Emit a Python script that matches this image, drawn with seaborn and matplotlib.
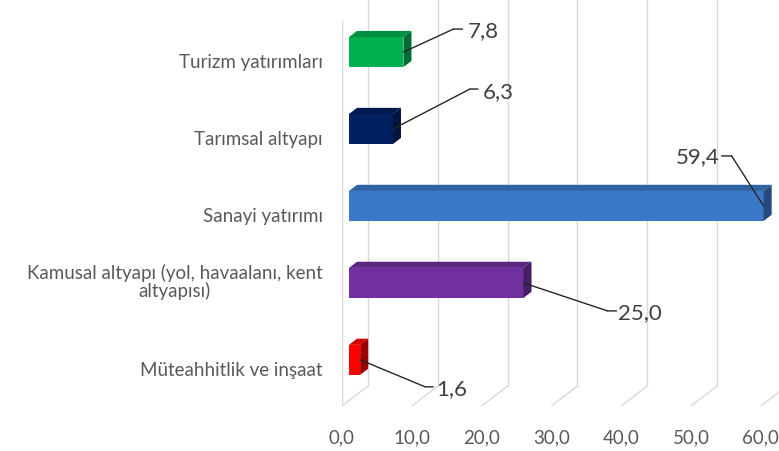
import matplotlib.pyplot as plt
import matplotlib.transforms as mtransforms
import numpy as np
import pandas as pd
import seaborn as sns
from matplotlib.patches import Polygon

# veriler
kategoriler = [
    "Turizm yatırımları",
    "Tarımsal altyapı",
    "Sanayi yatırımı",
    "Kamusal altyapı (yol, havaalanı, kent\naltyapısı)",
    "Müteahhitlik ve inşaat",
]
oranlar = [7.8, 6.3, 59.4, 25.0, 1.6]
renkler = ["#00B050", "#002060", "#3B79C8", "#7030A0", "#FF0000"]
x_ticks = [0, 10, 20, 30, 40, 50, 60]

df = pd.DataFrame({"kategori": kategoriler, "oran": oranlar})

sns.set_style("white")
plt.rcParams["font.family"] = ["Lato", "DejaVu Sans"]

fig = plt.figure(figsize=(7.79, 4.52), dpi=100)
ax = fig.add_axes([342 / 779, 45 / 452, 437 / 779, 407 / 452])

ax.set_xlim(-1.0, 61.6)
ax.set_ylim(4.6, -0.69)

# 3B görünümlü ızgara (arka duvar + zemin)
back_dx = 2.72
front_dx = -1.0
floor_back = 4.34
floor_front = 4.6
for t in x_ticks:
    ax.plot([t + back_dx, t + back_dx], [-0.69, floor_back], color="#d9d9d9", lw=1, zorder=0)
    ax.plot([t + back_dx, t + front_dx], [floor_back, floor_front], color="#d9d9d9", lw=1, zorder=0)
ax.plot([front_dx, front_dx], [-0.4, floor_front], color="#d9d9d9", lw=1, zorder=0)

sns.barplot(
    data=df,
    x="oran",
    y="kategori",
    hue="kategori",
    palette=renkler,
    orient="h",
    width=0.39,
    legend=False,
    ax=ax,
    zorder=2,
    saturation=1,
    linewidth=0,
)
ax.set_ylim(4.6, -0.69)
ax.set_xlim(-1.0, 61.6)

# çubuklara derinlik ekle
dx, dy = 1.15, -0.08
for p, c in zip(ax.patches, renkler):
    x0, y0, w, h = p.get_x(), p.get_y(), p.get_width(), p.get_height()
    rgb = np.array(plt.matplotlib.colors.to_rgb(c))
    top = Polygon([(x0, y0), (x0 + w, y0), (x0 + w + dx, y0 + dy), (x0 + dx, y0 + dy)],
                  closed=True, facecolor=rgb * 0.82, edgecolor="none", zorder=2)
    side = Polygon([(x0 + w, y0), (x0 + w, y0 + h), (x0 + w + dx, y0 + h + dy), (x0 + w + dx, y0 + dy)],
                   closed=True, facecolor=rgb * 0.62, edgecolor="none", zorder=2)
    ax.add_patch(top)
    ax.add_patch(side)

# veri etiketleri (kılavuz çizgili)
# (dirsek x, dirsek y, yatay parça, metin x, metin y, hizalama) piksel cinsinden
etiket_ofset = [
    (50, 23, 9, 64, 22, "left"),
    (77, 40, 8, 90, 38, "left"),
    (-32, 50, -10, -44, 50, "right"),
    (84, -28, 9, 94, -29, "left"),
    (65, -27, 8, 76, -28, "left"),
]
for i, (v, (ex, ey, hx, tx, ty, ha)) in enumerate(zip(oranlar, etiket_ofset)):
    ax.annotate("", xy=(v, i), xytext=(ex, ey), textcoords="offset pixels",
                arrowprops=dict(arrowstyle="-", color="#262626", lw=1, shrinkA=0, shrinkB=0))
    elbow = mtransforms.offset_copy(ax.transData, fig=fig, x=ex, y=ey, units="dots")
    ax.annotate("", xy=(v, i), xycoords=elbow, xytext=(hx, 0), textcoords="offset pixels",
                arrowprops=dict(arrowstyle="-", color="#262626", lw=1, shrinkA=0, shrinkB=0))
    ax.annotate(f"{v:.1f}".replace(".", ","), xy=(v, i), xytext=(tx, ty),
                textcoords="offset pixels", ha=ha, va="center",
                fontsize=16, color="#404040")

# eksen ayarları
ax.set_xticks(x_ticks)
ax.set_xticklabels([f"{t:.1f}".replace(".", ",") for t in x_ticks])
ax.tick_params(axis="x", length=0, pad=16, labelsize=13.5, labelcolor="#595959")
ax.tick_params(axis="y", length=0, pad=14, labelsize=13.5, labelcolor="#595959")
for lbl in ax.get_xticklabels():
    lbl.set_transform(lbl.get_transform() + mtransforms.ScaledTranslation(-7 / 100, 0, fig.dpi_scale_trans))
for lbl in ax.get_yticklabels():
    shift = 3 / 100 if "\n" in lbl.get_text() else -8 / 100
    lbl.set_multialignment("center")
    lbl.set_linespacing(1.0)
    lbl.set_transform(lbl.get_transform() + mtransforms.ScaledTranslation(0, shift, fig.dpi_scale_trans))
ax.set_xlabel("")
ax.set_ylabel("")
for s in ax.spines.values():
    s.set_visible(False)

plt.savefig("out.png", dpi=100)
